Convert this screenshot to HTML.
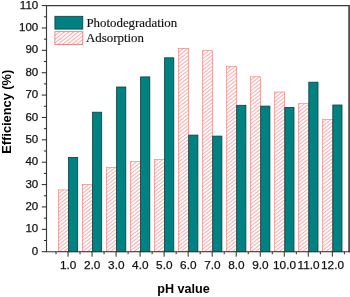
<!DOCTYPE html>
<html><head><meta charset="utf-8"><title>Efficiency vs pH value</title>
<style>
html,body{margin:0;padding:0;background:#fff;}
body{width:350px;height:297px;overflow:hidden;}
svg{display:block;}
.t{font-family:"Liberation Sans",Arial,sans-serif;font-size:11.5px;fill:#111;stroke:#111;stroke-width:0.25px;}
.b{font-family:"Liberation Sans",Arial,sans-serif;font-size:12px;font-weight:bold;fill:#000;}
.s{font-family:"Liberation Serif","Times New Roman",serif;font-size:12px;fill:#111;stroke:#111;stroke-width:0.15px;}
</style></head><body>
<svg width="350" height="297" viewBox="0 0 350 297">
<defs>
<pattern id="h" width="2.88" height="2.88" patternUnits="userSpaceOnUse" patternTransform="rotate(-38)">
<rect x="0" y="0" width="2.88" height="2.88" fill="#fff"/>
<line x1="0" y1="1.4" x2="2.88" y2="1.4" stroke="#ff3c3c" stroke-width="0.45"/>
</pattern>
</defs>
<rect x="0" y="0" width="350" height="297" fill="#fff"/>

<rect x="58.3" y="189.9" width="10.1" height="61.8" fill="url(#h)" stroke="#ea7676" stroke-width="0.6"/>
<rect x="68.5" y="157.4" width="9.2" height="94.3" fill="#008282" stroke="#07403f" stroke-width="0.8"/>
<rect x="82.3" y="184.5" width="10.1" height="67.2" fill="url(#h)" stroke="#ea7676" stroke-width="0.6"/>
<rect x="92.5" y="112.2" width="9.2" height="139.5" fill="#008282" stroke="#07403f" stroke-width="0.8"/>
<rect x="106.4" y="167.6" width="10.1" height="84.1" fill="url(#h)" stroke="#ea7676" stroke-width="0.6"/>
<rect x="116.6" y="87.0" width="9.2" height="164.7" fill="#008282" stroke="#07403f" stroke-width="0.8"/>
<rect x="130.4" y="161.7" width="10.1" height="90.0" fill="url(#h)" stroke="#ea7676" stroke-width="0.6"/>
<rect x="140.6" y="76.9" width="9.2" height="174.8" fill="#008282" stroke="#07403f" stroke-width="0.8"/>
<rect x="154.4" y="159.5" width="10.1" height="92.2" fill="url(#h)" stroke="#ea7676" stroke-width="0.6"/>
<rect x="164.6" y="57.8" width="9.2" height="193.9" fill="#008282" stroke="#07403f" stroke-width="0.8"/>
<rect x="178.5" y="48.4" width="10.1" height="203.3" fill="url(#h)" stroke="#ea7676" stroke-width="0.6"/>
<rect x="188.7" y="135.1" width="9.2" height="116.6" fill="#008282" stroke="#07403f" stroke-width="0.8"/>
<rect x="202.5" y="50.7" width="10.1" height="201.0" fill="url(#h)" stroke="#ea7676" stroke-width="0.6"/>
<rect x="212.7" y="136.1" width="9.2" height="115.6" fill="#008282" stroke="#07403f" stroke-width="0.8"/>
<rect x="226.5" y="66.2" width="10.1" height="185.5" fill="url(#h)" stroke="#ea7676" stroke-width="0.6"/>
<rect x="236.7" y="105.3" width="9.2" height="146.4" fill="#008282" stroke="#07403f" stroke-width="0.8"/>
<rect x="250.5" y="76.8" width="10.1" height="174.9" fill="url(#h)" stroke="#ea7676" stroke-width="0.6"/>
<rect x="260.7" y="106.1" width="9.2" height="145.6" fill="#008282" stroke="#07403f" stroke-width="0.8"/>
<rect x="274.6" y="92.0" width="10.1" height="159.7" fill="url(#h)" stroke="#ea7676" stroke-width="0.6"/>
<rect x="284.8" y="107.5" width="9.2" height="144.2" fill="#008282" stroke="#07403f" stroke-width="0.8"/>
<rect x="298.6" y="103.7" width="10.1" height="148.0" fill="url(#h)" stroke="#ea7676" stroke-width="0.6"/>
<rect x="308.8" y="82.2" width="9.2" height="169.5" fill="#008282" stroke="#07403f" stroke-width="0.8"/>
<rect x="322.6" y="119.6" width="10.1" height="132.1" fill="url(#h)" stroke="#ea7676" stroke-width="0.6"/>
<rect x="332.8" y="105.0" width="9.2" height="146.7" fill="#008282" stroke="#07403f" stroke-width="0.8"/>
<path d="M46.5 251.7 V5.6 H349.2" fill="none" stroke="#3a3a3a" stroke-width="1.15"/>
<path d="M349.1 5.05 V252.2" fill="none" stroke="#505050" stroke-width="1.8"/>
<path d="M45.8 251.7 H349.9" fill="none" stroke="#303030" stroke-width="1.1"/>
<line x1="41.7" y1="251.70" x2="46.5" y2="251.70" stroke="#2a2a2a" stroke-width="1.0"/>
<text class="t" x="38.2" y="254.80" text-anchor="end">0</text>
<line x1="43.9" y1="240.51" x2="46.5" y2="240.51" stroke="#2a2a2a" stroke-width="1.0"/>
<line x1="41.7" y1="229.33" x2="46.5" y2="229.33" stroke="#2a2a2a" stroke-width="1.0"/>
<text class="t" x="38.2" y="232.43" text-anchor="end">10</text>
<line x1="43.9" y1="218.14" x2="46.5" y2="218.14" stroke="#2a2a2a" stroke-width="1.0"/>
<line x1="41.7" y1="206.95" x2="46.5" y2="206.95" stroke="#2a2a2a" stroke-width="1.0"/>
<text class="t" x="38.2" y="210.05" text-anchor="end">20</text>
<line x1="43.9" y1="195.77" x2="46.5" y2="195.77" stroke="#2a2a2a" stroke-width="1.0"/>
<line x1="41.7" y1="184.58" x2="46.5" y2="184.58" stroke="#2a2a2a" stroke-width="1.0"/>
<text class="t" x="38.2" y="187.68" text-anchor="end">30</text>
<line x1="43.9" y1="173.40" x2="46.5" y2="173.40" stroke="#2a2a2a" stroke-width="1.0"/>
<line x1="41.7" y1="162.21" x2="46.5" y2="162.21" stroke="#2a2a2a" stroke-width="1.0"/>
<text class="t" x="38.2" y="165.31" text-anchor="end">40</text>
<line x1="43.9" y1="151.02" x2="46.5" y2="151.02" stroke="#2a2a2a" stroke-width="1.0"/>
<line x1="41.7" y1="139.84" x2="46.5" y2="139.84" stroke="#2a2a2a" stroke-width="1.0"/>
<text class="t" x="38.2" y="142.94" text-anchor="end">50</text>
<line x1="43.9" y1="128.65" x2="46.5" y2="128.65" stroke="#2a2a2a" stroke-width="1.0"/>
<line x1="41.7" y1="117.46" x2="46.5" y2="117.46" stroke="#2a2a2a" stroke-width="1.0"/>
<text class="t" x="38.2" y="120.56" text-anchor="end">60</text>
<line x1="43.9" y1="106.28" x2="46.5" y2="106.28" stroke="#2a2a2a" stroke-width="1.0"/>
<line x1="41.7" y1="95.09" x2="46.5" y2="95.09" stroke="#2a2a2a" stroke-width="1.0"/>
<text class="t" x="38.2" y="98.19" text-anchor="end">70</text>
<line x1="43.9" y1="83.90" x2="46.5" y2="83.90" stroke="#2a2a2a" stroke-width="1.0"/>
<line x1="41.7" y1="72.72" x2="46.5" y2="72.72" stroke="#2a2a2a" stroke-width="1.0"/>
<text class="t" x="38.2" y="75.82" text-anchor="end">80</text>
<line x1="43.9" y1="61.53" x2="46.5" y2="61.53" stroke="#2a2a2a" stroke-width="1.0"/>
<line x1="41.7" y1="50.35" x2="46.5" y2="50.35" stroke="#2a2a2a" stroke-width="1.0"/>
<text class="t" x="38.2" y="53.45" text-anchor="end">90</text>
<line x1="43.9" y1="39.16" x2="46.5" y2="39.16" stroke="#2a2a2a" stroke-width="1.0"/>
<line x1="41.7" y1="27.97" x2="46.5" y2="27.97" stroke="#2a2a2a" stroke-width="1.0"/>
<text class="t" x="38.2" y="31.07" text-anchor="end">100</text>
<line x1="43.9" y1="16.79" x2="46.5" y2="16.79" stroke="#2a2a2a" stroke-width="1.0"/>
<line x1="41.7" y1="5.60" x2="46.5" y2="5.60" stroke="#2a2a2a" stroke-width="1.0"/>
<text class="t" x="38.2" y="8.70" text-anchor="end">110</text>
<line x1="68.0" y1="251.7" x2="68.0" y2="256.7" stroke="#2a2a2a" stroke-width="1.0"/>
<text class="t" x="68.2" y="269.2" text-anchor="middle" style="font-size:11.8px">1.0</text>
<line x1="92.03" y1="251.7" x2="92.03" y2="256.7" stroke="#2a2a2a" stroke-width="1.0"/>
<text class="t" x="92.2" y="269.2" text-anchor="middle" style="font-size:11.8px">2.0</text>
<line x1="116.06" y1="251.7" x2="116.06" y2="256.7" stroke="#2a2a2a" stroke-width="1.0"/>
<text class="t" x="116.3" y="269.2" text-anchor="middle" style="font-size:11.8px">3.0</text>
<line x1="140.09" y1="251.7" x2="140.09" y2="256.7" stroke="#2a2a2a" stroke-width="1.0"/>
<text class="t" x="140.3" y="269.2" text-anchor="middle" style="font-size:11.8px">4.0</text>
<line x1="164.12" y1="251.7" x2="164.12" y2="256.7" stroke="#2a2a2a" stroke-width="1.0"/>
<text class="t" x="164.3" y="269.2" text-anchor="middle" style="font-size:11.8px">5.0</text>
<line x1="188.15" y1="251.7" x2="188.15" y2="256.7" stroke="#2a2a2a" stroke-width="1.0"/>
<text class="t" x="188.3" y="269.2" text-anchor="middle" style="font-size:11.8px">6.0</text>
<line x1="212.18" y1="251.7" x2="212.18" y2="256.7" stroke="#2a2a2a" stroke-width="1.0"/>
<text class="t" x="212.4" y="269.2" text-anchor="middle" style="font-size:11.8px">7.0</text>
<line x1="236.21" y1="251.7" x2="236.21" y2="256.7" stroke="#2a2a2a" stroke-width="1.0"/>
<text class="t" x="236.4" y="269.2" text-anchor="middle" style="font-size:11.8px">8.0</text>
<line x1="260.24" y1="251.7" x2="260.24" y2="256.7" stroke="#2a2a2a" stroke-width="1.0"/>
<text class="t" x="260.4" y="269.2" text-anchor="middle" style="font-size:11.8px">9.0</text>
<line x1="284.27" y1="251.7" x2="284.27" y2="256.7" stroke="#2a2a2a" stroke-width="1.0"/>
<text class="t" x="284.5" y="269.2" text-anchor="middle" style="font-size:11.8px">10.0</text>
<line x1="308.3" y1="251.7" x2="308.3" y2="256.7" stroke="#2a2a2a" stroke-width="1.0"/>
<text class="t" x="308.5" y="269.2" text-anchor="middle" style="font-size:11.8px">11.0</text>
<line x1="332.33000000000004" y1="251.7" x2="332.33000000000004" y2="256.7" stroke="#2a2a2a" stroke-width="1.0"/>
<text class="t" x="332.5" y="269.2" text-anchor="middle" style="font-size:11.8px">12.0</text>
<line x1="56.0" y1="251.7" x2="56.0" y2="254.29999999999998" stroke="#2a2a2a" stroke-width="1.0"/>
<line x1="80.03" y1="251.7" x2="80.03" y2="254.29999999999998" stroke="#2a2a2a" stroke-width="1.0"/>
<line x1="104.06" y1="251.7" x2="104.06" y2="254.29999999999998" stroke="#2a2a2a" stroke-width="1.0"/>
<line x1="128.09" y1="251.7" x2="128.09" y2="254.29999999999998" stroke="#2a2a2a" stroke-width="1.0"/>
<line x1="152.12" y1="251.7" x2="152.12" y2="254.29999999999998" stroke="#2a2a2a" stroke-width="1.0"/>
<line x1="176.15" y1="251.7" x2="176.15" y2="254.29999999999998" stroke="#2a2a2a" stroke-width="1.0"/>
<line x1="200.18" y1="251.7" x2="200.18" y2="254.29999999999998" stroke="#2a2a2a" stroke-width="1.0"/>
<line x1="224.21" y1="251.7" x2="224.21" y2="254.29999999999998" stroke="#2a2a2a" stroke-width="1.0"/>
<line x1="248.24" y1="251.7" x2="248.24" y2="254.29999999999998" stroke="#2a2a2a" stroke-width="1.0"/>
<line x1="272.27" y1="251.7" x2="272.27" y2="254.29999999999998" stroke="#2a2a2a" stroke-width="1.0"/>
<line x1="296.3" y1="251.7" x2="296.3" y2="254.29999999999998" stroke="#2a2a2a" stroke-width="1.0"/>
<line x1="320.33000000000004" y1="251.7" x2="320.33000000000004" y2="254.29999999999998" stroke="#2a2a2a" stroke-width="1.0"/>
<line x1="344.36" y1="251.7" x2="344.36" y2="254.29999999999998" stroke="#2a2a2a" stroke-width="1.0"/>
<rect x="54.9" y="16.3" width="27.9" height="12.8" fill="#008080" stroke="#07403f" stroke-width="0.8"/>
<rect x="54.9" y="31.7" width="27.9" height="12.7" fill="url(#h)" stroke="#e56868" stroke-width="0.75"/>
<g transform="translate(86.4 26.6) scale(1.075 1)"><text class="s" x="0" y="0">Photodegradation</text></g>
<g transform="translate(86.0 41.6) scale(1.075 1)"><text class="s" x="0" y="0">Adsorption</text></g>
<text class="b" x="157.2" y="293.1" style="font-size:12.6px">pH value</text>
<text class="b" transform="translate(10.5 153.7) rotate(-90)" style="font-size:12.8px">Efficiency (%)</text>
</svg></body></html>
